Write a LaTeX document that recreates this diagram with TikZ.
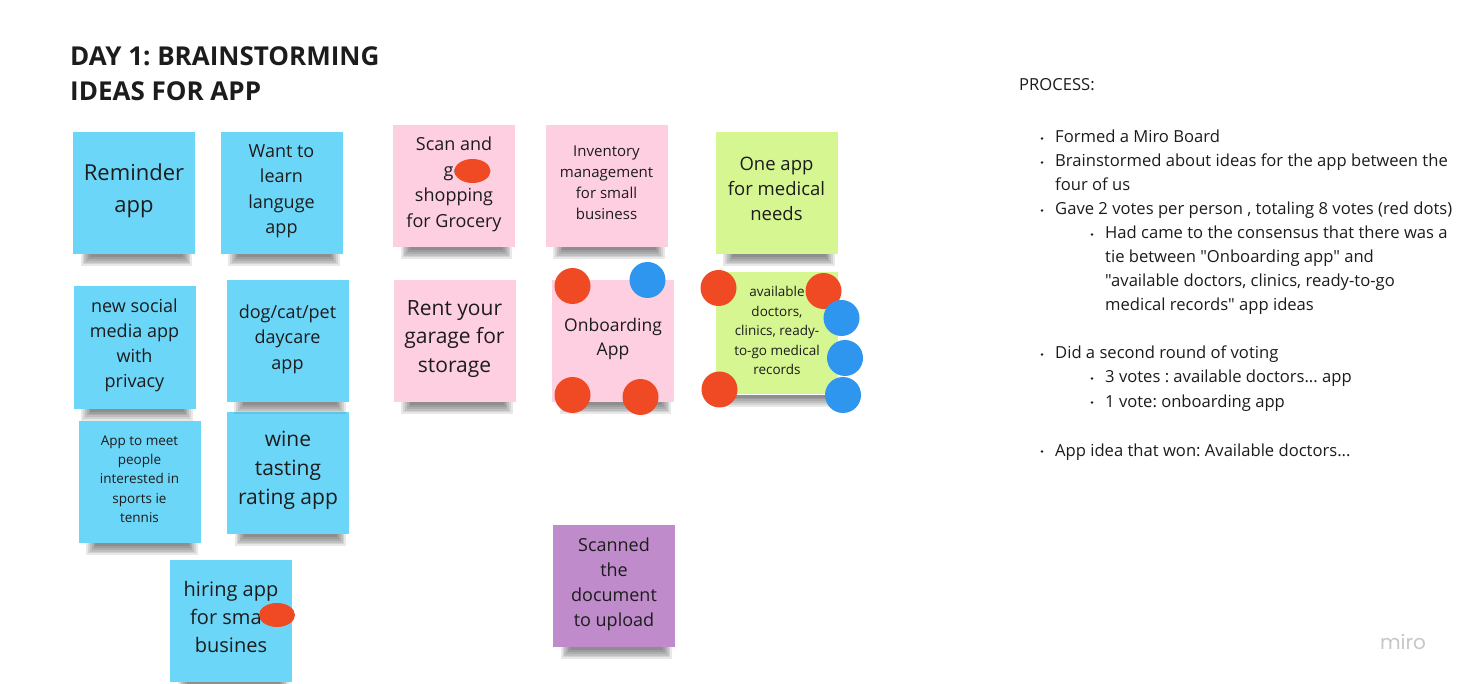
\documentclass[tikz,border=0pt]{standalone}
\usepackage{fontspec}
\setmainfont{Open Sans}[Ligatures=TeXOff]
\newfontfamily\logofont{Poppins}
\usepackage{tikz}
\usetikzlibrary{shapes.geometric}
\frenchspacing

\definecolor{noteblue}{HTML}{6CD6F8}
\definecolor{notepink}{HTML}{FECFE0}
\definecolor{notegreen}{HTML}{D6F692}
\definecolor{notepurple}{HTML}{BF8BCB}
\definecolor{votered}{HTML}{F04A25}
\definecolor{voteblue}{HTML}{2E96EE}
\definecolor{ink}{HTML}{1C1C1C}

\begin{document}
\begin{tikzpicture}[
  x=1pt, y=-1pt,
  note/.style={minimum width=122pt, minimum height=122pt, inner sep=0pt,
               align=center, text=ink,
               execute at end node={\rule[-0.45em]{0pt}{0pt}}},
  bluenote/.style={note, fill=noteblue},
  pinknote/.style={note, fill=notepink},
  greennote/.style={note, fill=notegreen},
  purplenote/.style={note, fill=notepurple},
  reddot/.style={circle, fill=votered, minimum size=36pt, inner sep=0pt},
  bluedot/.style={circle, fill=voteblue, minimum size=36pt, inner sep=0pt},
  redoval/.style={ellipse, fill=votered, minimum width=36pt, minimum height=24pt, inner sep=0pt},
  line/.style={anchor=base west, inner sep=0pt, text=ink, font=\fontsize{16.6}{24}\selectfont}
]
\useasboundingbox (0,0) rectangle (1459,684);
\fill[white] (0,0) rectangle (1459,684);

% title
\node[anchor=base west, inner sep=0pt, align=left, text=ink,
      font=\fontsize{26}{35}\selectfont\bfseries] (title) at (70,101)
      {DAY 1: BRAINSTORMING\\IDEAS FOR APP};

% blue column
\node[bluenote, font=\fontsize{22}{32}\selectfont] (reminder) at (134,193) {Reminder\\app};
\node[bluenote, font=\fontsize{18}{25.5}\selectfont] (language) at (281.5,193) {Want to\\learn\\languge\\app};
\node[bluenote, font=\fontsize{18}{25}\selectfont] (social) at (134.5,347.5) {new social\\media app\\with\\privacy};
\node[bluenote, font=\fontsize{18}{25.5}\selectfont] (daycare) at (287.5,341) {dog/cat/pet\\daycare\\app};
\node[bluenote, font=\fontsize{13.5}{19.3}\selectfont] (sports) at (139.5,482) {App to meet\\people\\interested in\\sports ie\\tennis};
\node[bluenote, font=\fontsize{21}{29}\selectfont] (wine) at (288,473) {wine\\tasting\\rating app};
\node[bluenote, font=\fontsize{20}{28}\selectfont] (hiring) at (231,621) {hiring app\\for sma\phantom{ll}\\busines};

% pink column
\node[pinknote, font=\fontsize{18}{25.5}\selectfont] (scan) at (454,186) {Scan and\\go\\shopping\\for Grocery};
\node[pinknote, font=\fontsize{15}{21.3}\selectfont] (inventory) at (606.5,186) {Inventory\\management\\for small\\business};
\node[pinknote, font=\fontsize{21}{28.5}\selectfont] (garage) at (454.5,341) {Rent your\\garage for\\storage};
\node[pinknote, font=\fontsize{17.5}{24}\selectfont] (onboard) at (613,341) {Onboarding\\App};
\node[purplenote, font=\fontsize{18}{25}\selectfont] (scanned) at (614,586) {Scanned\\the\\document\\to upload};

% green column
\node[greennote, font=\fontsize{18.5}{25}\selectfont] (oneapp) at (776.5,193) {One app\\for medical\\needs};
\node[greennote, font=\fontsize{13.5}{19.5}\selectfont] (doctors) at (777,333.5) {available\\doctors,\\clinics, ready-\\to-go medical\\records};

% soft shadows under the notes
\foreach \n in {reminder,language,social,daycare,sports,wine,hiring,scan,inventory,garage,onboard,scanned,oneapp,doctors}
  \foreach \i in {0,...,5}
    \fill[black, opacity=0.09]
      ([xshift={8pt+1.8pt*\i}]\n.south west) rectangle
      ([xshift={-3pt-1.8pt*\i}, yshift={-12pt+1.8pt*\i}]\n.south east);

% votes
\node[redoval] (vscan) at (472.5,171) {};
\node[redoval] (vhiring) at (277,615) {};
\node[reddot] (vob1) at (572.5,286) {};
\node[reddot] (vob2) at (572.5,395) {};
\node[reddot] (vob3) at (640.5,397) {};
\node[bluedot] (vob4) at (647.5,280) {};
\node[reddot] (vdoc1) at (718.5,288) {};
\node[reddot] (vdoc2) at (823.5,291) {};
\node[reddot] (vdoc3) at (719.5,389.5) {};
\node[bluedot] (vdoc4) at (841.5,318) {};
\node[bluedot] (vdoc5) at (845,358) {};
\node[bluedot] (vdoc6) at (843,395) {};

% process notes
\node[line] (process) at (1019,91) {PROCESS:};
\node[line] (p1) at (1055,143) {Formed a Miro Board};
\node[line] (p2) at (1055,167) {Brainstormed about ideas for the app between the};
\node[line] (p3) at (1055,191) {four of us};
\node[line] (p4) at (1055,215) {Gave 2 votes per person , totaling 8 votes (red dots)};
\node[line] (p5) at (1105,239) {Had came to the consensus that there was a};
\node[line] (p6) at (1105,263) {tie between "Onboarding app" and};
\node[line] (p7) at (1105,287) {"available doctors, clinics, ready-to-go};
\node[line] (p8) at (1105,311) {medical records" app ideas};
\node[line] (p9) at (1055,359) {Did a second round of voting};
\node[line] (p10) at (1105,383) {3 votes : available doctors... app};
\node[line] (p11) at (1105,407) {1 vote: onboarding app};
\node[line] (p12) at (1055,456) {App idea that won: Available doctors...};
\foreach \b in {p1,p2,p4,p5,p9,p10,p11,p12}
  \fill[ink] ([xshift=-13pt, yshift=4.5pt]\b.base west) circle (1.3pt);

\node[text=black!22, font=\logofont\fontsize{20}{20}\selectfont] (miro) at (1403,642) {miro};
\end{tikzpicture}
\end{document}
